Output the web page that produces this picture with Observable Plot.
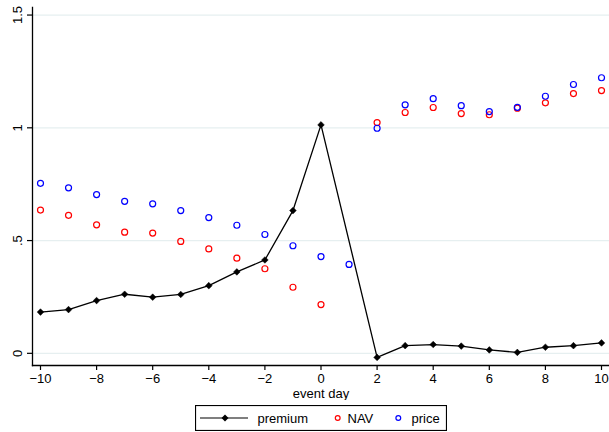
<!DOCTYPE html>
<html>
<head>
<meta charset="utf-8">
<script src="https://cdn.jsdelivr.net/npm/d3@7"></script>
<script src="https://cdn.jsdelivr.net/npm/@observablehq/plot@0.6"></script>
<style>
  body { margin: 0; background: #fff; font-family: "Liberation Sans", Arial, sans-serif; }
  #chart { width: 609px; }
  #legend { display: block; margin: 5px 0 0 195px; }
</style>
</head>
<body>
<div id="chart"></div>
<script>
// Event-study averages around event day 0
const days = [-10, -9, -8, -7, -6, -5, -4, -3, -2, -1, 0, 1, 2, 3, 4, 5, 6, 7, 8, 9, 10];
const premium = [0.183, 0.194, 0.234, 0.262, 0.249, 0.261, 0.300, 0.361, 0.414, 0.633, 1.013, null,
                 -0.018, 0.034, 0.039, 0.032, 0.015, 0.004, 0.027, 0.034, 0.046];
const nav = [0.635, 0.612, 0.570, 0.537, 0.533, 0.496, 0.463, 0.422, 0.375, 0.293, 0.216, null,
             1.023, 1.068, 1.090, 1.063, 1.058, 1.087, 1.111, 1.152, 1.165];
const price = [0.754, 0.734, 0.704, 0.674, 0.663, 0.633, 0.602, 0.568, 0.527, 0.477, 0.429, 0.394,
               0.998, 1.102, 1.129, 1.098, 1.072, 1.091, 1.140, 1.192, 1.222];
const xTicks = [-10, -8, -6, -4, -2, 0, 2, 4, 6, 8, 10];
const yTicks = [0, 0.5, 1, 1.5];
const yTickLabels = ["0", ".5", "1", "1.5"];
const seriesNames = ["premium", "NAV", "price"];

const rows = (vals) => days.map((d, i) => ({day: d, v: vals[i]})).filter(r => r.v != null);
const premiumRows = rows(premium);
const navRows = rows(nav);
const priceRows = rows(price);

const chart = Plot.plot({
  width: 609,
  height: 400,
  marginLeft: 32,
  marginRight: 0,
  marginTop: 7,
  marginBottom: 35,
  style: {fontFamily: "'Liberation Sans', Arial, sans-serif", fontSize: "13px", color: "#000", background: "#fff"},
  x: {domain: [-10.285, 10.285]},
  y: {domain: [-0.054, 1.5335]},
  marks: [
    Plot.gridY(yTicks, {stroke: "#e6eff0", strokeOpacity: 1, strokeWidth: 1.3}),
    Plot.axisY(yTicks, {tickSize: 5, tickRotate: -90, tickPadding: 6, strokeWidth: 1.2,
      tickFormat: (d) => yTickLabels[yTicks.indexOf(d)], label: null}),
    Plot.axisX(xTicks, {tickSize: 5, tickPadding: 3, strokeWidth: 1.2,
      label: "event day", labelAnchor: "center", labelArrow: "none", labelOffset: 32}),
    Plot.frame({anchor: "left", strokeWidth: 1.3}),
    Plot.frame({anchor: "bottom", strokeWidth: 1.3}),
    Plot.line(premiumRows, {x: "day", y: "v", stroke: "#000", strokeWidth: 1.3}),
    Plot.dot(premiumRows, {x: "day", y: "v", symbol: "diamond2", r: 3, fill: "#000", stroke: "#000", strokeWidth: 0.5}),
    Plot.dot(navRows, {x: "day", y: "v", r: 3, stroke: "#ff0000", strokeWidth: 1.2, fill: "none"}),
    Plot.dot(priceRows, {x: "day", y: "v", r: 3, stroke: "#0000ff", strokeWidth: 1.2, fill: "none"})
  ]
});
document.getElementById("chart").appendChild(chart);

// Boxed legend below the plot
const svg = d3.select(document.body).append("svg")
  .attr("id", "legend").attr("width", 252).attr("height", 26)
  .style("font-family", "'Liberation Sans', Arial, sans-serif").style("font-size", "13px");
svg.append("rect").attr("x", 0.5).attr("y", 0.5).attr("width", 251).attr("height", 25)
  .attr("fill", "#fff").attr("stroke", "#000").attr("stroke-width", 1.2);
svg.append("line").attr("x1", 5).attr("x2", 53).attr("y1", 13).attr("y2", 13)
  .attr("stroke", "#000").attr("stroke-width", 1.2);
svg.append("path").attr("d", "M30,9.5 L33.5,13 L30,16.5 L26.5,13 Z").attr("fill", "#000");
svg.append("circle").attr("cx", 142.7).attr("cy", 13).attr("r", 2.4)
  .attr("fill", "none").attr("stroke", "#ff0000").attr("stroke-width", 1.2);
svg.append("circle").attr("cx", 203.3).attr("cy", 13).attr("r", 2.4)
  .attr("fill", "none").attr("stroke", "#0000ff").attr("stroke-width", 1.2);
[62.5, 152.5, 216.5].forEach((x, i) => {
  svg.append("text").attr("x", x).attr("y", 13).attr("dy", "0.36em").text(seriesNames[i]);
});
</script>
</body>
</html>
